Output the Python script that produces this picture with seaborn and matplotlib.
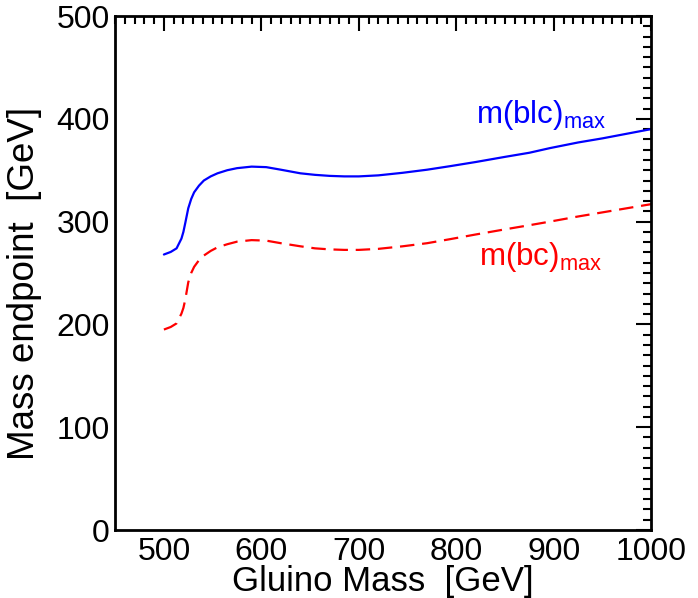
import matplotlib
matplotlib.use("Agg")
import matplotlib.pyplot as plt
import seaborn as sns
import pandas as pd
from matplotlib.ticker import MultipleLocator

# values
gluino_mass = [500, 507, 513, 518, 520, 522, 525, 528, 531, 536, 541, 548, 555, 565, 575, 590,
               605, 620, 640, 655, 670, 685, 700, 720, 745, 770, 794, 820, 850, 875, 896, 925,
               950, 975, 1000]
m_blc_max = [268, 270.5, 274, 283.5, 290, 299, 313, 322, 328.5, 335, 340, 344, 347, 350, 352, 353.5,
             353, 350.5, 347, 345.5, 344.5, 344, 344, 345, 347.5, 350.5, 354, 358, 363, 367, 371.5, 377,
             381, 385.5, 390]
m_bc_max = [195, 197.5, 201, 210.5, 216, 224.5, 241, 250, 256, 262.5, 267, 271.5, 275, 278, 280.5, 282,
            281.5, 279, 276, 274, 273, 272.5, 272.5, 273.5, 276, 279, 283, 287.5, 292.5, 296.5, 300, 305,
            309, 313, 317]

sns.set_style("white")
plt.rcParams['font.family'] = ['Liberation Sans', 'DejaVu Sans']
plt.rcParams['mathtext.fontset'] = 'custom'
plt.rcParams['mathtext.rm'] = 'Liberation Sans'
plt.rcParams['mathtext.it'] = 'Liberation Sans'
plt.rcParams['text.color'] = 'black'
plt.rcParams['axes.labelcolor'] = 'black'

df_blc = pd.DataFrame({'x': gluino_mass, 'y': m_blc_max})
df_bc = pd.DataFrame({'x': gluino_mass, 'y': m_bc_max})

fig = plt.figure(figsize=(6.98, 5.98), dpi=100)
ax = fig.add_axes([0.165, 0.1137, 0.768, 0.8595])

sns.lineplot(data=df_blc, x='x', y='y', ax=ax, color='#0000ff', linewidth=1.6, sort=False)
sns.lineplot(data=df_bc, x='x', y='y', ax=ax, color='#ff0000', linewidth=1.6, sort=False,
             linestyle=(0, (6.5, 3.5)))

ax.set_xlim(450, 1000)
ax.set_ylim(0, 500)
ax.xaxis.set_major_locator(MultipleLocator(100))
ax.xaxis.set_minor_locator(MultipleLocator(10))
ax.yaxis.set_major_locator(MultipleLocator(100))
ax.yaxis.set_minor_locator(MultipleLocator(10))
ax.tick_params(which='both', direction='in', top=True, right=True, width=1.5,
               colors='black', labelcolor='black')
ax.tick_params(which='major', length=11, labelsize=23, pad=4)
ax.tick_params(which='minor', length=5.5)
ax.tick_params(axis='x', which='major', pad=5)
for s in ax.spines.values():
    s.set_linewidth(2)
    s.set_color('black')

ax.set_xlabel('Gluino Mass  [GeV]', fontsize=25)
ax.set_ylabel('Mass endpoint  [GeV]', fontsize=26.5, va='center')
ax.xaxis.set_label_coords(0.5, -0.068)
ax.yaxis.set_label_coords(-0.17, 0.48)

ax.text(820, 396, r'$\mathrm{m(blc)}_{\mathrm{max}}$', color='#0000ff', fontsize=22.5,
        ha='left', va='baseline')
ax.text(823, 258, r'$\mathrm{m(bc)}_{\mathrm{max}}$', color='#ff0000', fontsize=22.5,
        ha='left', va='baseline')

fig.savefig('out.png', dpi=100, facecolor='white')
